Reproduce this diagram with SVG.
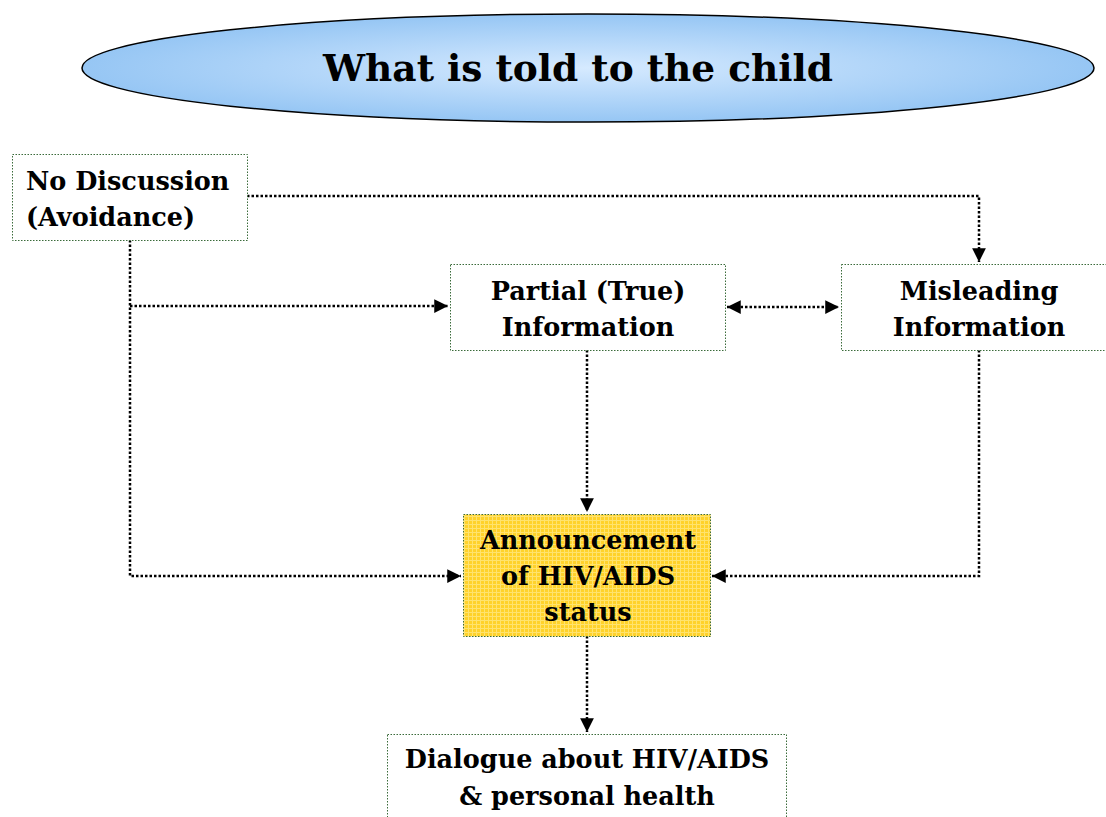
<svg xmlns="http://www.w3.org/2000/svg" width="1106" height="817" viewBox="0 0 1106 817">
<style>
.box{fill:#ffffff;stroke:#3a6b3a;stroke-width:1;stroke-dasharray:1.5 1.5}
.t{font-family:"DejaVu Serif","Liberation Serif",serif;font-weight:bold;font-size:25.5px;fill:#000}
.c{text-anchor:middle}
.ln{fill:none;stroke:#000;stroke-width:2.5;stroke-dasharray:2.5 2}
</style>
<defs>
<radialGradient id="g" cx="0.5" cy="0.5" r="0.5">
<stop offset="0" stop-color="#d6eaff"/>
<stop offset="1" stop-color="#96c6f4"/>
</radialGradient>
<pattern id="grid" width="4" height="4" patternUnits="userSpaceOnUse">
<rect width="4" height="4" fill="#ffd22a"/>
<path d="M0 0.5H4M0.5 0V4" stroke="#ffe36e" stroke-width="1"/>
</pattern>
<marker id="ah" viewBox="0 0 10 10" refX="10" refY="5" markerWidth="5.5" markerHeight="5.5" orient="auto-start-reverse" markerUnits="strokeWidth">
<path d="M0 0L10 5L0 10z" fill="#000"/>
</marker>
</defs>

<g id="title">
<ellipse cx="588" cy="68" rx="506" ry="54" fill="url(#g)" stroke="#000" stroke-width="1.5"/>
<text class="t c" x="578" y="81" style="font-size:37.5px">What is told to the child</text>
</g>

<g id="connectors">
<path class="ln" d="M247 196H979V262" marker-end="url(#ah)"/>
<path class="ln" d="M130 240V576H461" marker-end="url(#ah)"/>
<path class="ln" d="M130 306H448" marker-end="url(#ah)"/>
<path class="ln" d="M727 307H839" marker-start="url(#ah)" marker-end="url(#ah)"/>
<path class="ln" d="M587 350V512" marker-end="url(#ah)"/>
<path class="ln" d="M979 350V576H712" marker-end="url(#ah)"/>
<path class="ln" d="M587 636V732" marker-end="url(#ah)"/>
</g>

<g id="no-discussion">
<rect class="box" x="12.5" y="154.5" width="235" height="86"/>
<text class="t" x="26" y="190">No Discussion</text>
<text class="t" x="26" y="226">(Avoidance)</text>
</g>

<g id="partial">
<rect class="box" x="450.5" y="264.5" width="275" height="86"/>
<text class="t c" x="588" y="300">Partial (True)</text>
<text class="t c" x="588" y="336">Information</text>
</g>

<g id="misleading">
<rect class="box" x="841.5" y="264.5" width="270" height="86"/>
<text class="t c" x="979" y="300">Misleading</text>
<text class="t c" x="979" y="336">Information</text>
</g>

<g id="announcement">
<rect x="463.5" y="514.5" width="247" height="122" fill="url(#grid)" stroke="#3a6b3a" stroke-width="1" stroke-dasharray="1.5 1.5"/>
<text class="t c" x="588" y="549">Announcement</text>
<text class="t c" x="588" y="585">of HIV/AIDS</text>
<text class="t c" x="588" y="621">status</text>
</g>

<g id="dialogue">
<rect class="box" x="387.5" y="734.5" width="399" height="100"/>
<text class="t c" x="587" y="768">Dialogue about HIV/AIDS</text>
<text class="t c" x="587" y="805">&amp; personal health</text>
</g>
</svg>
